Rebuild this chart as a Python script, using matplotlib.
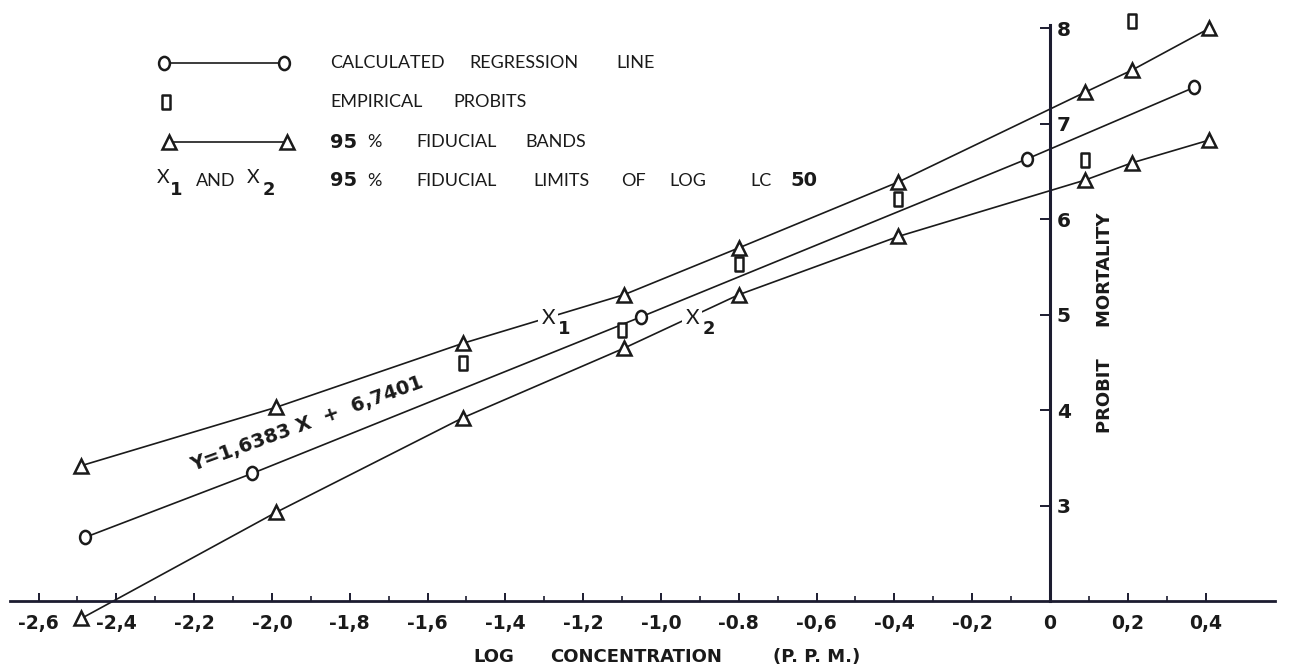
"""
Probit regression plot: probit mortality vs log concentration (p.p.m.),
calculated regression line, empirical probits and 95 % fiducial bands.
"""
import matplotlib
matplotlib.use("Agg")
import matplotlib.pyplot as plt
from matplotlib.path import Path
from matplotlib.transforms import Affine2D

# --- values (x = log ppm, y = probit) ---
reg_x = [-2.48, -2.05, -1.05, -0.06, 0.37]
reg_y = [2.67, 3.34, 4.98, 6.63, 7.38]

band_x = [-2.49, -1.99, -1.51, -1.095, -0.80, -0.39, 0.09, 0.21, 0.41]
upper_y = [3.42, 4.03, 4.70, 5.21, 5.70, 6.39, 7.33, 7.56, 8.00]
lower_y = [1.82, 2.93, 3.92, 4.65, 5.21, 5.82, 6.41, 6.59, 6.83]

emp_x = [-1.51, -1.10, -0.80, -0.39, 0.09, 0.21]
emp_y = [4.49, 4.84, 5.53, 6.21, 6.62, 8.08]

# fiducial limits of log LC50 (label positions on the bands)
lim_x = [-1.29, -0.92]
lim_y = [4.97, 4.97]
lim_sub = ["1", "2"]

xticks = [-2.6, -2.4, -2.2, -2.0, -1.8, -1.6, -1.4, -1.2, -1.0,
          -0.8, -0.6, -0.4, -0.2, 0.0, 0.2, 0.4]
xticklabels = ["-2,6", "-2,4", "-2,2", "-2,0", "-1,8", "-1,6", "-1,4", "-1,2",
               "-1,0", "-0.8", "-0,6", "-0,4", "-0,2", "0", "0,2", "0,4"]
xminor = [-2.5, -2.3, -2.1, -1.9, -1.7, -1.5, -1.3, -1.1, -0.9,
          -0.7, -0.5, -0.3, -0.1, 0.1, 0.3]
yticks = [3, 4, 5, 6, 7, 8]
yticklabels = ["3", "4", "5", "6", "7", "8"]

INK = "#1a1a1a"
AXIS = "#1c1c30"
LIGHT = ["Lato", "DejaVu Sans"]
BOLD = ["DejaVu Sans"]

# marker shapes: tall "O", triangle, narrow box
ell = Path.unit_circle().transformed(Affine2D().scale(0.82, 1.0))
box = Path([(-0.33, -0.5), (0.33, -0.5), (0.33, 0.5), (-0.33, 0.5), (-0.33, -0.5)],
           closed=True)
mk = dict(mfc="white", mec=INK, mew=1.8, ms=9.5)
LW = 1.2

fig = plt.figure(figsize=(12.9, 6.69), dpi=100)
fig.patch.set_facecolor("white")
ax = fig.add_axes([0, 0, 1, 1])
ax.set_xlim(-2.699, 0.617)
ax.set_ylim(1.291, 8.296)

# --- series ---
ax.plot(band_x, upper_y, color=INK, lw=LW, zorder=2)
ax.plot(band_x, lower_y, color=INK, lw=LW, zorder=2)
ax.plot(reg_x, reg_y, color=INK, lw=LW, zorder=2)
ax.plot(band_x, upper_y, ls="none", marker="^", zorder=4, **mk)
ax.plot(band_x, lower_y, ls="none", marker="^", zorder=4, **mk)
ax.plot(reg_x, reg_y, ls="none", marker=ell, zorder=4, **mk)
ax.plot(emp_x, emp_y, ls="none", marker=box, zorder=4, **mk)

for xx, yy, s in zip(lim_x, lim_y, lim_sub):
    ax.text(xx, yy, "X", family=LIGHT, fontsize=15, color=INK, ha="center",
            va="center", zorder=5,
            bbox=dict(boxstyle="square,pad=0.15", fc="white", ec="none"))
    ax.text(xx + 0.042, yy - 0.12, s, family=BOLD, weight="bold", fontsize=13,
            color=INK, ha="center", va="center", zorder=5)

ax.text(-1.91, 3.86, "Y=1,6383 X  +  6,7401", rotation=20, rotation_mode="anchor",
        ha="center", va="center", family=BOLD, weight="bold", fontsize=14, color=INK)

# --- axes drawn through the origin like the hand drawing ---
ax.spines["top"].set_visible(False)
ax.spines["left"].set_visible(False)
ax.spines["bottom"].set_position(("data", 2.0))
ax.spines["bottom"].set_bounds(-2.673, 0.578)
ax.spines["bottom"].set_linewidth(2.0)
ax.spines["bottom"].set_color(AXIS)
ax.spines["right"].set_position(("data", 0.0))
ax.spines["right"].set_bounds(2.0, 8.03)
ax.spines["right"].set_linewidth(2.2)
ax.spines["right"].set_color(AXIS)
ax.spines["bottom"].set_zorder(3)
ax.spines["right"].set_zorder(3)

ax.set_xticks(xticks)
ax.set_xticklabels(xticklabels, family=BOLD, weight="bold", fontsize=13.5, color=INK)
ax.set_xticks(xminor, minor=True)
ax.tick_params(axis="x", which="major", direction="in", length=6, width=1.4,
               pad=9, color=AXIS)
ax.tick_params(axis="x", which="minor", direction="in", length=3.5, width=1.2,
               color=AXIS)

ax.yaxis.tick_right()
ax.set_yticks(yticks)
ax.set_yticklabels(yticklabels, family=BOLD, weight="bold", fontsize=14.5, color=INK)
ax.tick_params(axis="y", direction="in", length=7, width=1.4, pad=5, color=AXIS)

ax.text(0.141, 4.92, "PROBIT     MORTALITY", rotation=90, ha="center", va="center",
        family=BOLD, weight="bold", fontsize=13, color=INK)


# x-axis title, word by word as on the scan
def fx(px):
    return px / 1290


def fy(py):
    return 1 - py / 669


for word, px in [("LOG", 473), ("CONCENTRATION", 550), ("(P. P. M.)", 773)]:
    ax.text(fx(px), fy(657), word, transform=ax.transAxes, ha="left", va="center",
            family=BOLD, weight="bold", fontsize=13, color=INK)

# --- hand-lettered key ---
ax.plot([fx(164), fx(284)], [fy(63), fy(63)], transform=ax.transAxes, color=INK,
        lw=LW, marker=ell, **mk)
ax.plot([fx(166)], [fy(102)], transform=ax.transAxes, ls="none", marker=box, **mk)
ax.plot([fx(169), fx(287)], [fy(142), fy(142)], transform=ax.transAxes, color=INK,
        lw=LW, marker="^", **mk)

key_words = [
    (63, [("CALCULATED", 330), ("REGRESSION", 469), ("LINE", 616)]),
    (102, [("EMPIRICAL", 330), ("PROBITS", 453)]),
    (142, [("FIDUCIAL", 416), ("BANDS", 525)]),
    (181, [("FIDUCIAL", 416), ("LIMITS", 533), ("OF", 621), ("LOG", 669), ("LC", 750)]),
]
for py, words in key_words:
    for word, px in words:
        ax.text(fx(px), fy(py), word, transform=ax.transAxes, ha="left", va="center",
                family=LIGHT, fontsize=13, color=INK)

for py in (142, 181):
    ax.text(fx(330), fy(py), "95", transform=ax.transAxes, ha="left", va="center",
            family=BOLD, weight="bold", fontsize=14, color=INK)
    ax.text(fx(367), fy(py), "%", transform=ax.transAxes, ha="left", va="center",
            family=LIGHT, fontsize=13, color=INK)
ax.text(fx(790), fy(181), "50", transform=ax.transAxes, ha="left", va="center",
        family=BOLD, weight="bold", fontsize=14, color=INK)

# "X1 AND X2" in the key
ax.text(fx(163), fy(178), "X", transform=ax.transAxes, ha="center", va="center",
        family=LIGHT, fontsize=14, color=INK)
ax.text(fx(176), fy(190), "1", transform=ax.transAxes, ha="center", va="center",
        family=BOLD, weight="bold", fontsize=13, color=INK)
ax.text(fx(196), fy(181), "AND", transform=ax.transAxes, ha="left", va="center",
        family=LIGHT, fontsize=13, color=INK)
ax.text(fx(253), fy(178), "X", transform=ax.transAxes, ha="center", va="center",
        family=LIGHT, fontsize=14, color=INK)
ax.text(fx(269), fy(190), "2", transform=ax.transAxes, ha="center", va="center",
        family=BOLD, weight="bold", fontsize=13, color=INK)

fig.savefig("out.png", dpi=100, facecolor="white")
plt.close(fig)
